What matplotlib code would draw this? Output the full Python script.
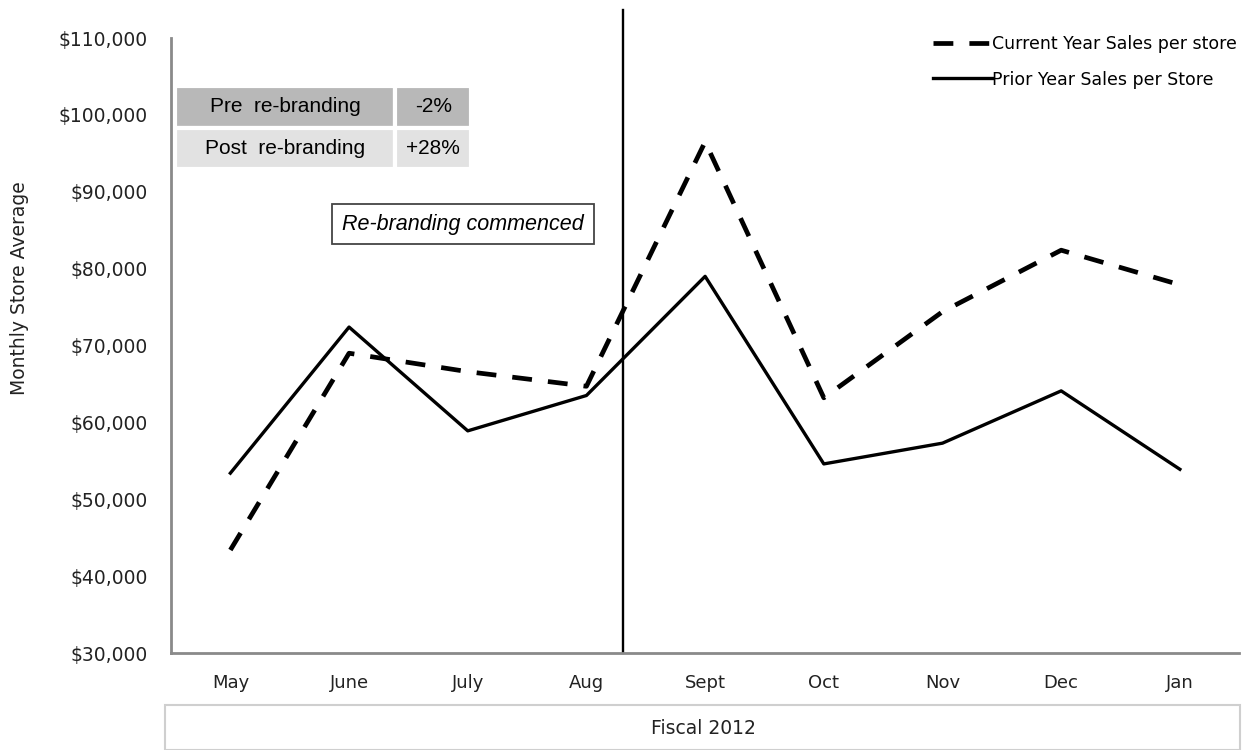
import matplotlib
matplotlib.use("Agg")
import matplotlib.pyplot as plt
from matplotlib.patches import Rectangle

# data
months = ["May", "June", "July", "Aug", "Sept", "Oct", "Nov", "Dec", "Jan"]
current_year = [43400, 69000, 66600, 64700, 96500, 63200, 74400, 82400, 77900]
prior_year = [53400, 72400, 58900, 63500, 79000, 54600, 57300, 64100, 53900]
yticks = [30000, 40000, 50000, 60000, 70000, 80000, 90000, 100000, 110000]
rebrand_x = 3.31  # between Aug and Sept

table_rows = [["Pre  re-branding", "-2%"], ["Post  re-branding", "+28%"]]
table_colours = [["#b8b8b8", "#b8b8b8"], ["#e2e2e2", "#e2e2e2"]]

plt.rcParams['font.family'] = ['DejaVu Sans']

fig = plt.figure(figsize=(12.53, 7.5), dpi=100)
ax = fig.add_axes([0.1365, 0.1293, 0.8525, 0.82])

x = range(len(months))
ax.plot(x, current_year, color="black", lw=3.4, linestyle=(0, (4.2, 3.4)),
        label="Current Year Sales per store")
ax.plot(x, prior_year, color="black", lw=2.4, label="Prior Year Sales per Store")

ax.set_xlim(-0.5, len(months) - 0.5)
ax.set_ylim(30000, 110000)
ax.set_yticks(yticks)
ax.set_yticklabels(["${:,}".format(v) for v in yticks], fontsize=13.5, color="#222222")
ax.set_xticks(list(x))
ax.set_xticklabels(months, fontsize=13, color="#222222")
ax.tick_params(axis="both", length=0)
ax.tick_params(axis="y", pad=17)
ax.tick_params(axis="x", pad=15)

for s in ["top", "right"]:
    ax.spines[s].set_visible(False)
for s in ["left", "bottom"]:
    ax.spines[s].set_color("#8a8a8a")
    ax.spines[s].set_linewidth(2)

# re-branding line, runs above the axes
ax.plot([rebrand_x, rebrand_x], [30000, 113600], color="black", lw=1.7, clip_on=False)

ax.text(1.96, 85800, "Re-branding commenced", fontsize=15.5, style="italic",
        family=["Liberation Sans"], ha="center", va="center",
        bbox=dict(boxstyle="square,pad=0.45", fc="white", ec="#444444", lw=1.3))

tbl = ax.table(cellText=table_rows, cellColours=table_colours, cellLoc="center",
               colWidths=[0.743, 0.257], bbox=[0.004, 0.787, 0.277, 0.135])
tbl.auto_set_font_size(False)
tbl.set_fontsize(15)
for cell in tbl.get_celld().values():
    cell.set_edgecolor("white")
    cell.set_linewidth(3)
    cell.get_text().set_family(["Liberation Sans"])

ax.legend(loc="upper right", bbox_to_anchor=(1.012, 1.03), frameon=False,
          fontsize=12.5, handlelength=3.4, handletextpad=0.0, labelspacing=1.0)

fig.text(20 / 1253, 1 - 288 / 750, "Monthly Store Average", rotation=90,
         fontsize=13.5, ha="center", va="center", color="#222222")

fig.patches.append(Rectangle((165 / 1253, 0), (1240 - 165) / 1253, 45 / 750,
                             transform=fig.transFigure, fill=False,
                             ec="#cfcfcf", lw=1.5))
fig.text(703 / 1253, 1 - 728 / 750, "Fiscal 2012", fontsize=13.5,
         ha="center", va="center", color="#222222")

fig.savefig("out.png", dpi=100)
